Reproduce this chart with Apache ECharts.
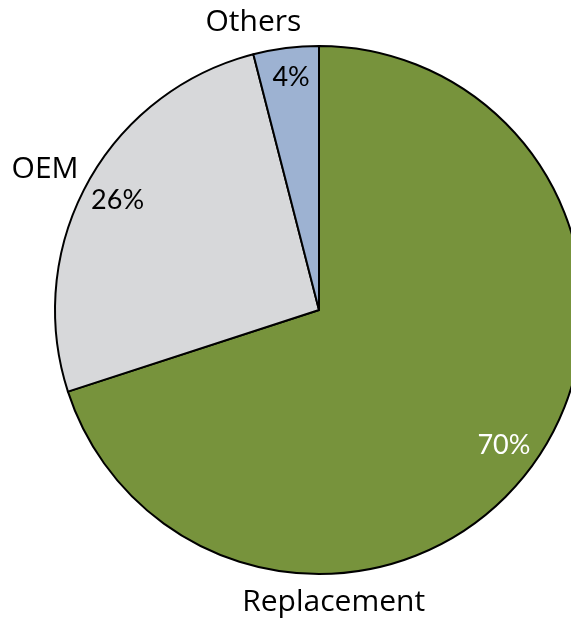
<!DOCTYPE html>
<html><head><meta charset="utf-8">
<script src="https://cdn.jsdelivr.net/npm/echarts@6/dist/echarts.min.js"></script>
<style>html,body{margin:0;padding:0;background:#fff}#c{width:571px;height:620px}</style>
</head><body><div id="c"></div>
<script>
var categories = ['Replacement', 'OEM', 'Others'];
var shares = [70, 26, 4];
var colors = ['#77933C', '#D7D8DA', '#9DB2D2'];

var FONT = 'Lato';
var NAME_FONT = 'Open Sans';
var center = [319, 310];
var R = 264;
// offsets of the category names relative to their mid-angle anchor
var nameOffsets = [[-228, 116], [-11, 4], [-28, 10]];
var pctOffsets = [[-2, 0], [1, 2], [1, -4]];

var baseData = categories.map(function (c, i) {
  return { name: c, value: shares[i], itemStyle: { color: colors[i] } };
});
var pctData = categories.map(function (c, i) {
  return { name: c, value: shares[i],
    label: { color: i === 0 ? '#ffffff' : '#000000', offset: pctOffsets[i] } };
});
var nameData = categories.map(function (c, i) {
  return { name: c, value: shares[i], label: { offset: nameOffsets[i] } };
});

var chart = echarts.init(document.getElementById('c'));
chart.setOption({
  animation: false,
  series: [
    {
      type: 'pie', center: center, radius: [0, R], startAngle: 90, clockwise: true,
      silent: true,
      itemStyle: { borderColor: '#000', borderWidth: 2 },
      label: { show: false }, labelLine: { show: false },
      data: baseData
    },
    {
      type: 'pie', center: center, radius: [194, 262], startAngle: 90, clockwise: true,
      silent: true,
      itemStyle: { color: 'rgba(0,0,0,0)', borderWidth: 0 },
      label: { show: true, position: 'inside', fontFamily: FONT, fontSize: 27,
        formatter: function (p) { return p.value + '%'; } },
      labelLine: { show: false },
      data: pctData
    },
    {
      type: 'pie', center: center, radius: [266, 328], startAngle: 90, clockwise: true,
      silent: true,
      itemStyle: { color: 'rgba(0,0,0,0)', borderWidth: 0 },
      label: { show: true, position: 'inside', fontFamily: NAME_FONT, fontSize: 30, color: '#000',
        formatter: '{b}' },
      labelLine: { show: false },
      data: nameData
    }
  ]
});
</script>
</body></html>
